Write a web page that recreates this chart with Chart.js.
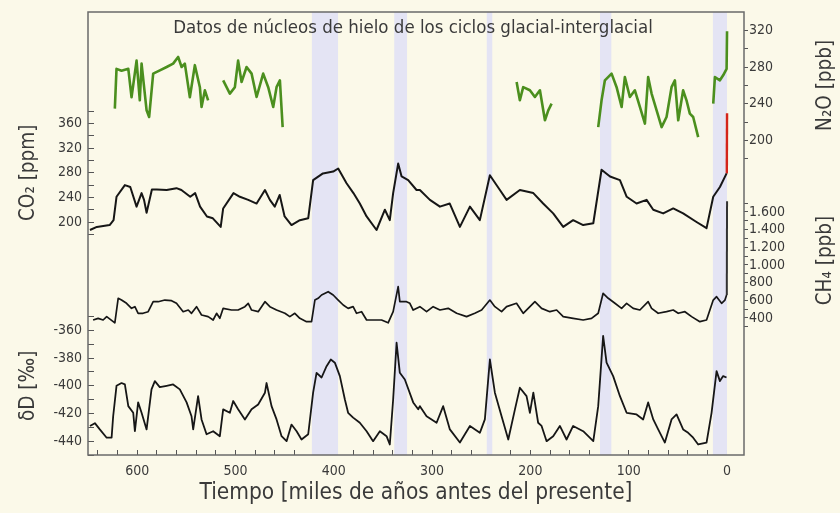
<!DOCTYPE html>
<html lang="es">
<head>
<meta charset="utf-8">
<title>Datos de núcleos de hielo de los ciclos glacial-interglacial</title>
<script src="https://cdn.jsdelivr.net/npm/chart.js@4/dist/chart.umd.min.js"></script>
<style>
  html, body { margin: 0; padding: 0; background: #fbf9e9; }
  #grafico { display: block; }
</style>
</head>
<body>
<canvas id="grafico" width="840" height="513"></canvas>
<script>
// Edad en miles de años antes del presente (kyr) y valor medido en el hielo.

// CO2 (ppm)
const co2Kyr = [648, 641, 628, 624, 621, 612.5, 607, 600.6, 595.5, 593, 590.4, 585, 580, 570, 560, 555, 546, 541, 536, 529,
  523, 515, 512.5, 502, 495.5, 487, 478.5, 470, 465, 460, 455, 450, 443, 434.5, 426, 421, 411, 400.6, 395.5, 387,
  380, 373.5, 366.6, 356.5, 348, 343, 339.6, 334.5, 331, 324.3, 315.8, 312.4, 302.2, 292, 282, 271.7, 261.5, 251.4, 241.2, 231,
  224.2, 210.7, 197, 187, 176.8, 166.6, 156.5, 146.3, 136, 127.6, 119, 108.9, 102, 92, 81.8, 75, 64.9, 54.7, 44.6, 31,
  20.8, 14, 7.2, 0.4];
const co2Ppm = [187, 192, 195, 203, 241, 260, 257, 225, 247, 236, 215, 253, 253, 252, 255, 252, 241, 247, 225, 209,
  206, 192, 222, 247, 241, 236, 230, 252, 236, 225, 244, 209, 195, 203, 206, 268, 279, 282, 287, 263,
  247, 230, 209, 187, 220, 203, 247, 295, 274, 268, 252, 252, 236, 225, 230, 192, 225, 203, 276, 252,
  236, 252, 247, 230, 214, 192, 203, 195, 198, 285, 274, 268, 241, 230, 236, 220, 214, 222, 214, 200,
  190, 241, 257, 279];
// CO2 de la era industrial (ppm)
const co2ModernKyr = [0.2, -0.055];
const co2ModernPpm = [279, 377];

// CH4 (ppb)
const ch4Kyr = [644.8, 639.7, 634.6, 631, 622.7, 619.3, 615.9, 610.8, 605.7, 602.3, 599, 594, 588.8, 583.7, 578.6, 571.8, 565, 560, 553.2, 548,
  544.7, 539.6, 534.5, 527.8, 522.7, 519.2, 515.9, 512.5, 504, 497.3, 490.4, 487, 483.6, 476.9, 470, 465, 458.2, 449.7, 444.7, 439.6,
  434.5, 427.7, 422.6, 419.2, 415.9, 412.4, 405.7, 400.6, 395.5, 390.4, 385.4, 380.3, 376.8, 371.7, 366.6, 358, 351.4, 344.7, 339.6, 334.5,
  332.8, 326, 322.6, 319.2, 312.4, 305.6, 298.9, 292, 283.6, 275, 264.9, 256.5, 249.6, 241.2, 236.1, 229.3, 224.2, 214.1, 207.3, 195.4,
  188.6, 180.2, 173.3, 166.6, 156.5, 146.3, 137.8, 131, 126, 120.8, 114, 107.2, 102.1, 95.4, 88.6, 80.2, 76.7, 70, 61.5, 54.7,
  49.6, 42.8, 36, 27.6, 20.8, 14, 10.6, 5.5, 2.1, 0.4];
const ch4Ppb = [377, 396, 377, 415, 345, 623, 603, 566, 509, 528, 453, 453, 471, 584, 584, 603, 596, 566, 471, 490,
  453, 528, 434, 415, 377, 453, 396, 509, 490, 490, 528, 566, 490, 471, 584, 528, 490, 453, 415, 453,
  396, 358, 358, 603, 623, 660, 697, 660, 603, 547, 509, 528, 453, 471, 377, 377, 377, 345, 471, 754,
  584, 584, 566, 490, 528, 471, 528, 490, 509, 453, 415, 453, 490, 603, 528, 471, 528, 566, 453, 584,
  509, 471, 490, 415, 396, 377, 396, 453, 679, 623, 566, 509, 566, 509, 490, 584, 509, 453, 471, 490,
  453, 471, 415, 358, 377, 603, 641, 566, 603, 660];
// CH4 de la era industrial (ppb)
const ch4ModernKyr = [0.2, -0.055];
const ch4ModernPpb = [660, 1720];

// δD (‰)
const dDKyr = [648, 643, 638, 631, 626, 624.4, 621, 615.9, 612.5, 609, 604, 602.3, 599, 595.5, 590.4, 585.4, 582, 577, 570, 563.4,
  556.6, 549.7, 544.7, 543, 538, 534.5, 529.4, 522.7, 515.9, 512.5, 505.7, 502.3, 497.3, 490.4, 483.6, 476.9, 470, 468.4, 463.3, 458.2,
  453.1, 448, 443, 437.8, 432.8, 426, 421, 417.5, 412.4, 407.3, 403, 398.9, 393.8, 388.7, 385.4, 380.3, 373.5, 366.6, 360, 353.1,
  346.3, 343, 339.6, 336.1, 332.8, 327.7, 319.2, 314.1, 312.4, 305.6, 295.4, 288.7, 281.9, 271.7, 261.5, 251.4, 246.3, 241.2, 236.1, 229.3,
  222.5, 215.7, 210.7, 203.9, 200.5, 197, 192.1, 188.6, 183.5, 176.8, 170, 163.2, 156.5, 146.3, 136, 131, 126, 122.5, 115.8, 108.9,
  102.1, 92, 85.3, 80.2, 75, 70, 63.2, 56.4, 51.3, 44.6, 39.5, 34.4, 29.3, 20.8, 15.7, 10.6, 7.2, 3.9, 0.5];
const dDPermil = [-429, -427, -431.5, -437.5, -437.5, -422, -400, -398, -399, -414.7, -419.5, -432.8, -412, -419.5, -431.5, -402.6, -396.6, -401, -400, -399,
  -402.6, -412, -422, -431.5, -407.5, -424.3, -435, -432.8, -436.4, -417, -419.5, -411, -417, -424.3, -417, -413.5, -405, -398, -414.7, -424.3,
  -436.4, -440, -428, -432.8, -438.8, -435, -405, -390.6, -394, -385.8, -381, -383.3, -393, -409.9, -419.5, -423, -426.7, -432.8, -440, -432.8,
  -436.4, -442.4, -409.9, -368.9, -390.6, -395.4, -412, -417, -414.7, -422, -426.7, -414.7, -431.5, -441, -429, -434, -424.3, -381, -405, -422,
  -438.8, -417, -401.4, -407.5, -419.5, -405, -426.7, -429, -440, -436.4, -429, -438.8, -429, -432.8, -440, -414.7, -364, -383.3, -393, -407.5,
  -419.5, -420.7, -424.3, -412, -424.3, -431.5, -441, -424.3, -420.7, -431.5, -434, -437.5, -442.4, -441, -419.5, -389.4, -396.6, -393, -394];

// N2O (ppb); null separa los tramos sin medidas
const n2oKyr = [622.7, 621, 615.9, 609, 605.7, 600.6, 597.3, 595.5, 590.4, 587.8, 583.7, 576.9, 570, 563.4, 558.3, 554.8, 551.5, 546.4, 541.3, 536.2,
  534.5, 531.1, 527.8, 520,
  512.5, 505.7, 500.6, 497.3, 493.8, 488.7, 483.6, 478.5, 471.8, 466.7, 461.6, 458.2, 454.8, 452, 330,
  214, 210.7, 207.3, 200.5, 195.4, 190.3, 185.2, 181.8, 178.4, 150,
  131, 127.6, 124.2, 117.4, 112.3, 107.2, 103.9, 98.8, 93.7, 88.6, 83.5, 80.2, 76.7, 71.6, 66.5, 61.5, 56.4, 53, 49.6, 44.6,
  41.2, 37.8, 34.4, 29.3, 20,
  14, 12.3, 7.2, 3.9, 0.4, -0.055];
const n2oPpb = [234.6, 278, 276, 278, 247, 287, 243.7, 283.7, 232.8, 225.5, 272.8, 276.4, 280, 283.7, 291, 280, 283.7, 247, 282, 258,
  236.4, 254.6, 243.7, null,
  265.5, 251, 258, 287, 263.6, 280, 272.8, 247.3, 272.8, 258, 236.4, 258, 265.5, 214.5, null,
  263.6, 243.7, 258, 254.6, 247.3, 254.6, 221.9, 232.8, 240, null,
  214.5, 243.7, 265.5, 272.8, 258, 236.4, 269, 247.3, 254.6, 236.4, 218.3, 269, 251, 232.8, 214.5, 225.5, 258, 265.5, 221.9, 254.6,
  243.7, 229.2, 225.5, 203.6, null,
  240, 269, 265.5, 271, 278, 319];

// Periodos interglaciares (inicio, fin) en kyr
const interglacialKyr = [[422.5, 395.5], [338.6, 325.3], [244.6, 238.5], [129.3, 117.4], [14.5, 0]];

// Marcas y rótulos de los ejes
const timeTicks = [640, 620, 600, 580, 560, 540, 520, 500, 480, 460, 440, 420, 400, 380, 360, 340, 320, 300,
  280, 260, 240, 220, 200, 180, 160, 140, 120, 100, 80, 60, 40, 20, 0];
const timeLabels = [600, 500, 400, 300, 200, 100, 0];
const co2Ticks = [180, 200, 220, 240, 260, 280, 300, 320, 340, 360, 380];
const co2Labels = [200, 240, 280, 320, 360];
const dDTicks = [-450, -440, -430, -420, -410, -400, -390, -380, -370, -360, -350];
const dDLabels = [-440, -420, -400, -380, -360];
const n2oTicks = [180, 200, 220, 240, 260, 280, 300, 320];
const n2oLabels = [200, 240, 280, 320];
const ch4Ticks = [300, 400, 500, 600, 700, 800, 900, 1000, 1100, 1200, 1300, 1400, 1500, 1600, 1700];
const ch4Labels = [400, 600, 800, 1000, 1200, 1400, 1600];

const FONT = 'DejaVu Sans Condensed';
const INK = '#3a3a3a';
const LINE = '#161616';

const pts = (xs, ys) => xs.map((x, i) => ({ x, y: ys[i] }));
const bandPts = interglacialKyr.flatMap(([a, b]) => [{ x: a, y: 1 }, { x: b, y: 1 }, { x: b, y: null }]);
const setTicks = list => scale => { scale.ticks = list.map(value => ({ value })); };
const labelIf = list => v => (list.includes(v) ? String(v) : '');
const thousands = v => (v >= 1000 ? Math.floor(v / 1000) + '.' + String(v % 1000).padStart(3, '0') : String(v));
// los rótulos de las marcas no deben desplazar el área del gráfico
const noOverhang = s => { s.paddingTop = 0; s.paddingBottom = 0; s.paddingLeft = 0; s.paddingRight = 0; };

const tickFont = { family: FONT, size: 14 };

function leftAxis(min, max, ticks, labels, weight, stackWeight, title) {
  return {
    type: 'linear', position: 'left', stack: 'izq', stackWeight, weight, min, max,
    afterBuildTicks: setTicks(ticks),
    afterFit: s => { s.width = 88; noOverhang(s); },
    ticks: { autoSkip: false, padding: 12, color: INK, font: tickFont, callback: labelIf(labels) },
    grid: { drawOnChartArea: false, tickLength: -6, color: '#555', lineWidth: 1 },
    border: { display: false },
    title: { display: true, text: title, color: INK, font: { family: FONT, size: 20.5 }, padding: { top: 16 } }
  };
}
function rightAxis(min, max, ticks, fmt, weight, stackWeight) {
  return {
    type: 'linear', position: 'right', stack: 'der', stackWeight, weight, min, max,
    afterBuildTicks: setTicks(ticks),
    afterFit: s => { s.width = 96; noOverhang(s); },
    ticks: { autoSkip: false, padding: 1, color: INK, font: tickFont, callback: fmt },
    grid: { drawOnChartArea: false, tickLength: 4, color: '#555', lineWidth: 1 },
    border: { display: false }
  };
}
function spacer(position, stack, weight, stackWeight) {
  return {
    type: 'linear', position, stack, weight, stackWeight, display: false, min: 0, max: 1,
    afterFit: s => { s.width = position === 'left' ? 88 : 96; noOverhang(s); }
  };
}

// Marco, título interior y rótulos de los ejes de la derecha
const decor = {
  id: 'decor',
  beforeDraw(chart) {
    const { ctx, width, height } = chart;
    ctx.save();
    ctx.fillStyle = '#fbf9e9';
    ctx.fillRect(0, 0, width, height);
    ctx.restore();
  },
  afterDraw(chart) {
    const { ctx, chartArea: a, scales } = chart;
    ctx.save();
    ctx.strokeStyle = '#6a6a6a';
    ctx.lineWidth = 1.5;
    ctx.strokeRect(a.left, a.top, a.right - a.left, a.bottom - a.top);

    ctx.fillStyle = INK;
    ctx.textAlign = 'center';
    ctx.textBaseline = 'middle';
    ctx.font = `18.5px "${FONT}"`;
    ctx.fillText('Datos de núcleos de hielo de los ciclos glacial-interglacial', (a.left + a.right) / 2 - 3, a.top + 16);

    ctx.font = `20.5px "${FONT}"`;
    [['n2o', 'N₂O [ppb]'], ['ch4', 'CH₄ [ppb]']].forEach(([id, text]) => {
      const s = scales[id];
      ctx.save();
      ctx.translate(826, (s.top + s.bottom) / 2);
      ctx.rotate(-Math.PI / 2);
      ctx.fillText(text, 0, 0);
      ctx.restore();
    });
    ctx.restore();
  }
};

new Chart(document.getElementById('grafico'), {
  type: 'line',
  data: {
    datasets: [
      { label: 'Interglaciares', data: bandPts, yAxisID: 'banda', order: 10,
        borderWidth: 0, pointRadius: 0, fill: 'origin', backgroundColor: '#e4e4f4', spanGaps: false },
      { label: 'N2O', data: pts(n2oKyr, n2oPpb), yAxisID: 'n2o', borderColor: '#4b8f1e', borderWidth: 2.6, spanGaps: false },
      { label: 'CO2', data: pts(co2Kyr, co2Ppm), yAxisID: 'co2', borderColor: LINE, borderWidth: 2 },
      { label: 'CO2 actual', data: pts(co2ModernKyr, co2ModernPpm), yAxisID: 'co2', borderColor: '#d4241a', borderWidth: 2.4 },
      { label: 'CH4', data: pts(ch4Kyr, ch4Ppb), yAxisID: 'ch4', borderColor: LINE, borderWidth: 1.7 },
      { label: 'CH4 actual', data: pts(ch4ModernKyr, ch4ModernPpb), yAxisID: 'ch4', borderColor: '#333', borderWidth: 2 },
      { label: 'δD', data: pts(dDKyr, dDPermil), yAxisID: 'dd', borderColor: LINE, borderWidth: 1.8 }
    ]
  },
  options: {
    responsive: false,
    animation: false,
    events: [],
    layout: { padding: { top: 12, left: 0, right: 0, bottom: 0 } },
    elements: { point: { radius: 0 }, line: { tension: 0, borderJoinStyle: 'round', fill: false } },
    plugins: { legend: { display: false }, tooltip: { enabled: false } },
    scales: {
      x: {
        type: 'linear', position: 'bottom', min: -17.3, max: 650, reverse: true,
        afterBuildTicks: setTicks(timeTicks),
        afterFit: s => { s.height = 58; noOverhang(s); },
        ticks: { autoSkip: false, maxRotation: 0, padding: 13, color: INK, font: tickFont, callback: labelIf(timeLabels) },
        grid: { drawOnChartArea: false, tickLength: -5, color: '#555', lineWidth: 1 },
        border: { display: false },
        title: { display: true, text: 'Tiempo [miles de años antes del presente]', color: INK,
          font: { family: FONT, size: 22.5 }, padding: { bottom: 6 } }
      },
      arriba: spacer('left', 'izq', 4, 99.3),
      co2: leftAxis(180, 380, co2Ticks, co2Labels, 3, 123, 'CO₂ [ppm]'),
      medio: spacer('left', 'izq', 2, 82.3),
      dd: leftAxis(-450, -350, dDTicks, dDLabels, 1, 138.4, 'δD [‰]'),
      n2o: rightAxis(180, 340, n2oTicks, labelIf(n2oLabels), 1, 146.7),
      hueco: spacer('right', 'der', 2, 35.6),
      ch4: rightAxis(300, 1800, ch4Ticks, v => (ch4Labels.includes(v) ? thousands(v) : ''), 3, 132.5),
      abajo: spacer('right', 'der', 4, 128.2),
      banda: { type: 'linear', position: 'left', display: false, min: 0, max: 1, weight: 0 }
    }
  },
  plugins: [decor]
});
</script>
</body>
</html>
